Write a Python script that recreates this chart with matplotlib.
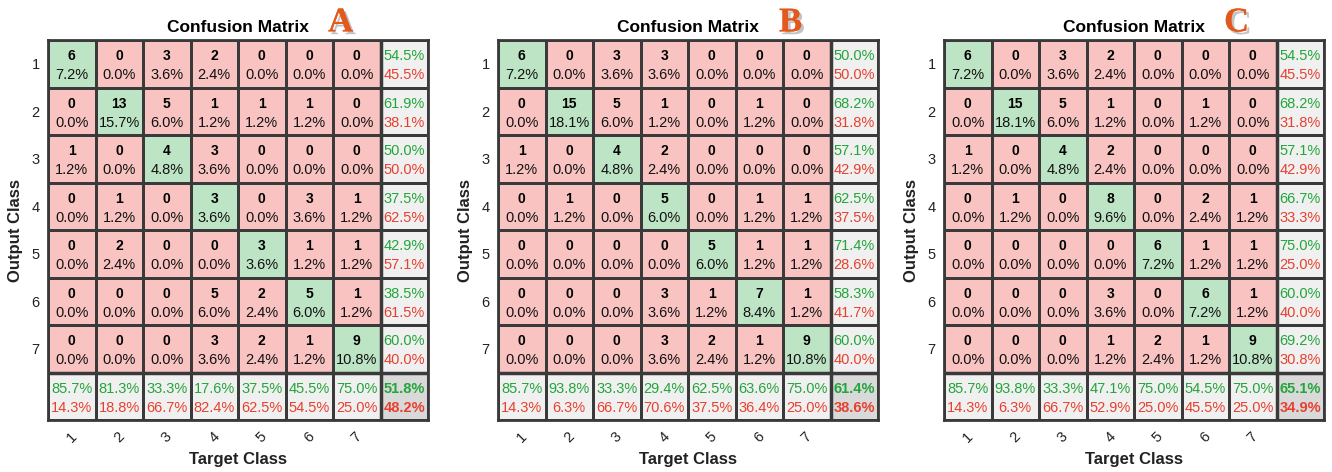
import numpy as np
import matplotlib
matplotlib.use("Agg")
import matplotlib.pyplot as plt
from matplotlib.colors import ListedColormap
import matplotlib.patheffects as pe

plt.rcParams['font.family'] = ['Liberation Sans', 'DejaVu Sans']

# === data ===
classes = ["1", "2", "3", "4", "5", "6", "7"]

counts_a = [
    [6, 0, 3, 2, 0, 0, 0],
    [0, 13, 5, 1, 1, 1, 0],
    [1, 0, 4, 3, 0, 0, 0],
    [0, 1, 0, 3, 0, 3, 1],
    [0, 2, 0, 0, 3, 1, 1],
    [0, 0, 0, 5, 2, 5, 1],
    [0, 0, 0, 3, 2, 1, 9],
]
counts_b = [
    [6, 0, 3, 3, 0, 0, 0],
    [0, 15, 5, 1, 0, 1, 0],
    [1, 0, 4, 2, 0, 0, 0],
    [0, 1, 0, 5, 0, 1, 1],
    [0, 0, 0, 0, 5, 1, 1],
    [0, 0, 0, 3, 1, 7, 1],
    [0, 0, 0, 3, 2, 1, 9],
]
counts_c = [
    [6, 0, 3, 2, 0, 0, 0],
    [0, 15, 5, 1, 0, 1, 0],
    [1, 0, 4, 2, 0, 0, 0],
    [0, 1, 0, 8, 0, 2, 1],
    [0, 0, 0, 0, 6, 1, 1],
    [0, 0, 0, 3, 0, 6, 1],
    [0, 0, 0, 1, 2, 1, 9],
]
panel_letters = ["A", "B", "C"]

GREEN_CELL = "#bde5c5"
RED_CELL = "#f8c3c1"
GRAY_CELL = "#f0f0f0"
CORNER_CELL = "#d9d9d9"
GREEN_TXT = "#22a63a"
RED_TXT = "#e8402f"
EDGE = "#3a3a3a"


def pct(v):
    # round half up, like the matlab output
    return f"{np.floor(v * 10 + 0.5) / 10:.1f}%"


def draw_cm(ax, counts, letter):
    cm = np.array(counts)
    n = cm.shape[0]
    total = cm.sum()

    # cell kind: 0 red, 1 green, 2 gray, 3 corner
    kind = np.zeros((n + 1, n + 1))
    kind[np.arange(n), np.arange(n)] = 1
    kind[n, :] = 2
    kind[:, n] = 2
    kind[n, n] = 3
    cmap = ListedColormap([RED_CELL, GREEN_CELL, GRAY_CELL, CORNER_CELL])
    ax.pcolormesh(np.arange(n + 2), np.arange(n + 2), kind, cmap=cmap,
                  vmin=-0.5, vmax=3.5, edgecolors=EDGE, linewidth=1.0)

    for i in range(n):
        for j in range(n):
            ax.text(j + 0.5, i + 0.34, str(cm[i, j]), ha="center", va="center",
                    fontsize=10, fontweight="bold", color="black")
            ax.text(j + 0.5, i + 0.74, pct(100 * cm[i, j] / total),
                    ha="center", va="center", fontsize=10.5, color="#111111")

    row_sum = cm.sum(axis=1)
    col_sum = cm.sum(axis=0)
    diag = np.diag(cm)
    for i in range(n):
        p = 100 * diag[i] / row_sum[i]
        ax.text(n + 0.5, i + 0.34, pct(p), ha="center", va="center",
                fontsize=10.5, color=GREEN_TXT)
        ax.text(n + 0.5, i + 0.74, pct(100 - p), ha="center", va="center",
                fontsize=10.5, color=RED_TXT)
    for j in range(n):
        p = 100 * diag[j] / col_sum[j]
        ax.text(j + 0.5, n + 0.34, pct(p), ha="center", va="center",
                fontsize=10.5, color=GREEN_TXT)
        ax.text(j + 0.5, n + 0.74, pct(100 - p), ha="center", va="center",
                fontsize=10.5, color=RED_TXT)
    acc = 100 * diag.sum() / total
    ax.text(n + 0.5, n + 0.34, pct(acc), ha="center", va="center",
            fontsize=10.5, fontweight="bold", color=GREEN_TXT)
    ax.text(n + 0.5, n + 0.74, pct(100 - acc), ha="center", va="center",
            fontsize=10.5, fontweight="bold", color=RED_TXT)

    # thicker separators
    ax.axvline(n, color=EDGE, lw=2.5)
    ax.axhline(n, color=EDGE, lw=2.5)

    ax.set_xlim(0, n + 1)
    ax.set_ylim(n + 1, 0)
    ax.set_xticks(np.arange(n) + 0.5)
    ax.set_xticklabels(classes, rotation=45, fontsize=10.5, color="#222222")
    ax.set_yticks(np.arange(n) + 0.5)
    ax.set_yticklabels(classes, fontsize=10.5, color="#222222")
    ax.tick_params(length=0, pad=6)
    ax.tick_params(axis="x", pad=7)
    for s in ax.spines.values():
        s.set_linewidth(2)
        s.set_color(EDGE)

    ax.set_title("Confusion Matrix", fontsize=12.5, fontweight="bold", pad=6)
    ax.set_xlabel("Target Class", fontsize=12, fontweight="bold",
                  color="#222222", labelpad=5)
    ax.set_ylabel("Output Class", fontsize=12, fontweight="bold",
                  color="#222222", labelpad=6)

    ax.text(0.77, 1.045, letter, transform=ax.transAxes, ha="center",
            va="center", fontsize=25, fontweight="bold",
            family=["Liberation Serif", "DejaVu Serif"], color="#e3581c",
            path_effects=[pe.withSimplePatchShadow(offset=(2, -2),
                                                   shadow_rgbFace="#888888",
                                                   alpha=0.5),
                          pe.Normal()])


fig = plt.figure(figsize=(13.32, 4.72), dpi=100)
W, H = 1332, 472
lefts = [48, 498, 944]
for left, counts, letter in zip(lefts, [counts_a, counts_b, counts_c], panel_letters):
    ax = fig.add_axes([left / W, 52 / H, 380 / W, 380 / H])
    draw_cm(ax, counts, letter)

fig.savefig("out.png", dpi=100)
